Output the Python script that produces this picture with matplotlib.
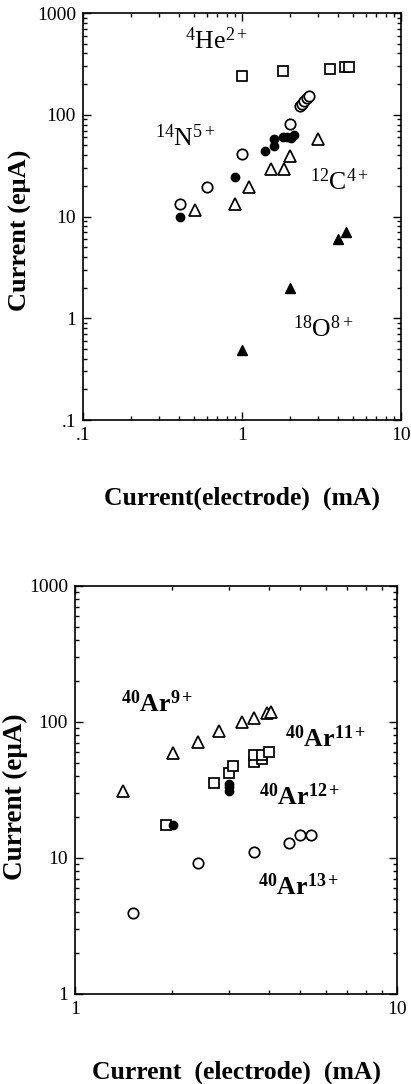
import matplotlib
matplotlib.use("Agg")
import matplotlib.pyplot as plt
from matplotlib.ticker import FixedLocator, FixedFormatter, LogLocator, NullFormatter

plt.rcParams['font.family'] = ['Liberation Serif', 'DejaVu Serif']
plt.rcParams['mathtext.fontset'] = 'custom'
plt.rcParams['mathtext.rm'] = 'Liberation Serif'
plt.rcParams['mathtext.bf'] = 'Liberation Serif:bold'
plt.rcParams['mathtext.it'] = 'Liberation Serif:italic'

# ---------------- Top panel data ----------------
he_x = [1.0, 1.81, 3.59, 4.45, 4.73]
he_y = [238, 271, 281, 297, 297]

n_open_x = [0.405, 0.602, 1.0, 2.01, 2.30, 2.39, 2.46, 2.56, 2.62]
n_open_y = [13.2, 19.7, 41, 81, 121, 127, 135, 146, 154]

n_fill_x = [0.405, 0.908, 1.40, 1.60, 1.60, 1.81, 1.92, 2.03, 2.11]
n_fill_y = [10, 24.3, 44.3, 48.8, 58.1, 59.8, 59.8, 58.9, 63.6]

c_x = [0.508, 0.908, 1.10, 1.52, 1.83, 2.01, 2.99]
c_y = [11.5, 13.4, 19.4, 29, 29, 38.9, 58]

o_x = [1.0, 2.01, 3.99, 4.51]
o_y = [0.489, 1.97, 6.04, 7.01]

top_yticks = [0.1, 1, 10, 100, 1000]
top_yticklabels = ['.1', '1', '10', '100', '1000']
top_xticks = [0.1, 1, 10]
top_xticklabels = ['.1', '1', '10']

# ---------------- Bottom panel data ----------------
ar9_x = [1.41, 2.02, 2.41, 2.80, 3.30, 3.60, 3.95, 4.05]
ar9_y = [31.1, 59.2, 71.3, 85.9, 100, 107, 116, 118]

ar11_x = [1.92, 2.70, 3.01, 3.10, 3.60, 3.60, 3.81, 3.81, 4.00]
ar11_y = [17.5, 35.6, 42.2, 47.5, 50.8, 57.2, 53.5, 57.0, 60.2]

ar12_x = [2.02, 3.01, 3.01, 3.01]
ar12_y = [17.5, 35.0, 33.0, 31.3]

ar13_x = [1.51, 2.41, 3.60, 4.62, 5.0, 5.41]
ar13_y = [3.94, 9.19, 11.1, 12.9, 14.8, 14.8]

bot_yticks = [1, 10, 100, 1000]
bot_yticklabels = ['1', '10', '100', '1000']
bot_xticks = [1, 10]
bot_xticklabels = ['1', '10']

W, H = 411, 1084
fig = plt.figure(figsize=(W / 100, H / 100), dpi=100)

def px_axes(l, t, r, b):
    return fig.add_axes([l / W, 1 - b / H, (r - l) / W, (b - t) / H])

def style(ax, xlim, ylim, xt, xtl, yt, ytl):
    ax.set_xscale('log')
    ax.set_yscale('log')
    ax.set_xlim(*xlim)
    ax.set_ylim(*ylim)
    ax.xaxis.set_major_locator(FixedLocator(xt))
    ax.xaxis.set_major_formatter(FixedFormatter(xtl))
    ax.yaxis.set_major_locator(FixedLocator(yt))
    ax.yaxis.set_major_formatter(FixedFormatter(ytl))
    ax.xaxis.set_minor_locator(LogLocator(base=10, subs=range(2, 10)))
    ax.yaxis.set_minor_locator(LogLocator(base=10, subs=range(2, 10)))
    ax.xaxis.set_minor_formatter(NullFormatter())
    ax.yaxis.set_minor_formatter(NullFormatter())
    ax.tick_params(which='both', direction='in', top=True, right=True,
                   width=1.0, colors='black')
    ax.tick_params(which='major', length=6, labelsize=14, pad=5)
    ax.tick_params(which='minor', length=3)
    for s in ax.spines.values():
        s.set_linewidth(1.2)

ms_open = dict(linestyle='none', markerfacecolor='white', markeredgecolor='black',
               markeredgewidth=1.25, clip_on=False)
ms_fill = dict(linestyle='none', color='black', clip_on=False)

# ---------------- Top panel ----------------
ax1 = px_axes(83, 13, 401, 420)
style(ax1, (0.1, 10), (0.1, 1000), top_xticks, top_xticklabels,
      top_yticks, top_yticklabels)
ax1.plot(he_x, he_y, marker='s', markersize=6.5, **ms_open)
ax1.plot(n_open_x, n_open_y, marker='o', markersize=7.5, **ms_open)
ax1.plot(n_fill_x, n_fill_y, marker='o', markersize=6, **ms_fill)
ax1.plot(c_x, c_y, marker='^', markersize=8.5, **ms_open)
ax1.plot(o_x, o_y, marker='^', markersize=6.5, **ms_fill)

lab_kw = dict(fontsize=18.5, color='black', transform=ax1.transData)
ax1.text(0.44, 439, r'$^{4}$He$^{2+}$', **lab_kw)
ax1.text(0.285, 49.9, r'$^{14}$N$^{5+}$', **lab_kw)
ax1.text(2.69, 18.4, r'$^{12}$C$^{4+}$', **lab_kw)
ax1.text(2.10, 0.66, r'$^{18}$O$^{8+}$', **lab_kw)

ax1.set_xlabel('Current(electrode)  (mA)', fontsize=18.5, fontweight='bold', labelpad=31)
ax1.set_ylabel('Current (e\u03bcA)', fontsize=19, fontweight='bold')
ax1.yaxis.set_label_coords(-0.160, 0.467)

# ---------------- Bottom panel ----------------
ax2 = px_axes(75, 586, 397, 994)
style(ax2, (1, 10), (1, 1000), bot_xticks, bot_xticklabels,
      bot_yticks, bot_yticklabels)
ax2.plot(ar9_x, ar9_y, marker='^', markersize=8.5, **ms_open)
ax2.plot(ar11_x, ar11_y, marker='s', markersize=6.5, **ms_open)
ax2.plot(ar12_x, ar12_y, marker='o', markersize=6, **ms_fill)
ax2.plot(ar13_x, ar13_y, marker='o', markersize=7.5, **ms_open)

lab2 = dict(fontsize=18.5, color='black', fontweight='bold', transform=ax2.transData)
ax2.text(1.39, 118.5, r'$\mathbf{^{40}}$Ar$\mathbf{^{9+}}$', **lab2)
ax2.text(4.49, 65.5, r'$\mathbf{^{40}}$Ar$\mathbf{^{11+}}$', **lab2)
ax2.text(3.73, 24.5, r'$\mathbf{^{40}}$Ar$\mathbf{^{12+}}$', **lab2)
ax2.text(3.70, 5.35, r'$\mathbf{^{40}}$Ar$\mathbf{^{13+}}$', **lab2)

ax2.set_xlabel('Current  (electrode)  (mA)', fontsize=18.5, fontweight='bold', labelpad=31)
ax2.set_ylabel('Current (e\u03bcA)', fontsize=19.5, fontweight='bold')
ax2.yaxis.set_label_coords(-0.146, 0.483)

fig.savefig('out.png', dpi=100, facecolor='white')
